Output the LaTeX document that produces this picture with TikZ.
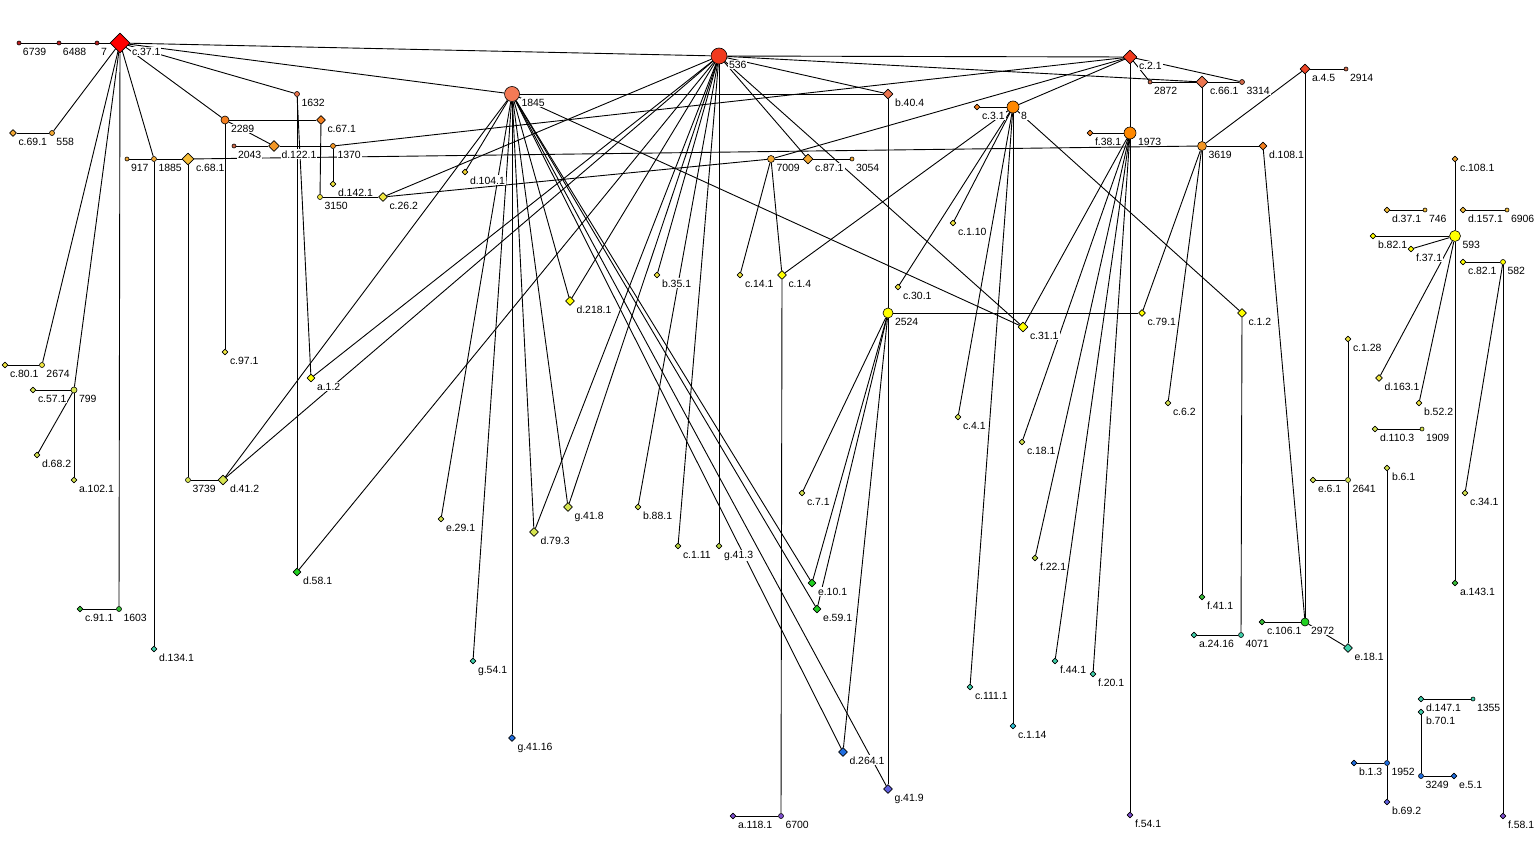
\documentclass[tikz,border=0pt]{standalone}
\usepackage{fontspec}
\setmainfont{Liberation Sans}
\usetikzlibrary{shapes.geometric,backgrounds}
\definecolor{cRed}{RGB}{255,0,0}
\definecolor{cDRed}{RGB}{190,30,30}
\definecolor{cRedOr}{RGB}{240,58,30}
\definecolor{cCoral}{RGB}{244,122,86}
\definecolor{cSalmon}{RGB}{236,118,80}
\definecolor{cBrown}{RGB}{208,104,72}
\definecolor{cOrange}{RGB}{244,128,32}
\definecolor{cOrBright}{RGB}{255,136,0}
\definecolor{cAmber}{RGB}{242,150,36}
\definecolor{cLtOr}{RGB}{242,168,52}
\definecolor{cGold}{RGB}{246,190,56}
\definecolor{cYel}{RGB}{255,255,0}
\definecolor{cLtYel}{RGB}{240,230,64}
\definecolor{cYelOr}{RGB}{240,210,48}
\definecolor{cYelGr}{RGB}{214,228,80}
\definecolor{cOlive}{RGB}{186,214,64}
\definecolor{cGreen}{RGB}{32,208,32}
\definecolor{cMidGr}{RGB}{56,192,56}
\definecolor{cTeal}{RGB}{64,208,170}
\definecolor{cCyan}{RGB}{48,196,216}
\definecolor{cBlue}{RGB}{32,110,224}
\definecolor{cViolet}{RGB}{96,96,224}
\definecolor{cPurple}{RGB}{128,80,208}
\begin{document}
\begin{tikzpicture}[x=1bp,y=-1bp,line join=bevel,
  dm/.style={diamond,draw=black,line width=0.6bp,inner sep=0pt,minimum size=#1},
  cn/.style={circle,draw=black,line width=0.6bp,inner sep=0pt,minimum size=#1},
  lbl/.style={anchor=base west,xshift=0.5bp,yshift=-12bp,fill=white,inner sep=1bp,font=\fontsize{10.5}{12}\selectfont},
  edge/.style={black,line width=0.9bp}]
\useasboundingbox (0,0) rectangle (1535,858);
%%
\node (n6739) at (19,43) [cn=4bp,fill=cDRed,label={[lbl]right:6739}] {};
\node (n6488) at (59,43) [cn=4bp,fill=cDRed,label={[lbl]right:6488}] {};
\node (n7) at (97,43) [cn=4bp,fill=cDRed,label={[lbl]right:7}] {};
\node (c37_1) at (120,43) [dm=20bp,fill=cRed,label={[lbl]right:c.37.1}] {};
\node (c69_1) at (13,133) [dm=7bp,fill=cLtOr,label={[lbl]right:c.69.1}] {};
\node (n558) at (52,133) [cn=5bp,fill=cLtOr,label={[lbl]right:558}] {};
\node (n1632) at (297,94) [cn=5bp,fill=cSalmon,label={[lbl]right:1632}] {};
\node (n2289) at (225,120) [cn=8bp,fill=cOrange,label={[lbl]right:2289}] {};
\node (c67_1) at (321,120) [dm=9bp,fill=cOrange,label={[lbl]right:c.67.1}] {};
\node (d122_1) at (274,146) [dm=11bp,fill=cAmber,label={[lbl]right:d.122.1}] {};
\node (n2043) at (234,146) [cn=4bp,fill=cBrown,label={[lbl]right:2043}] {};
\node (n1370) at (333,146) [cn=5bp,fill=cAmber,label={[lbl]right:1370}] {};
\node (n917) at (127,159) [cn=4bp,fill=cLtOr,label={[lbl]right:917}] {};
\node (n1885) at (154,159) [cn=5bp,fill=cLtOr,label={[lbl]right:1885}] {};
\node (c68_1) at (188,159) [dm=12bp,fill=cGold,label={[lbl]right:c.68.1}] {};
\node (d142_1) at (333,184) [dm=6bp,fill=cLtYel,label={[lbl]right:d.142.1}] {};
\node (n3150) at (320,197) [cn=5bp,fill=cLtYel,label={[lbl]right:3150}] {};
\node (c26_2) at (383,197) [dm=9bp,fill=cLtYel,label={[lbl]right:c.26.2}] {};
\node (c80_1) at (5,365) [dm=6bp,fill=cLtYel,label={[lbl]right:c.80.1}] {};
\node (n2674) at (42,365) [cn=5bp,fill=cLtYel,label={[lbl]right:2674}] {};
\node (c57_1) at (33,390) [dm=6bp,fill=cYelGr,label={[lbl]right:c.57.1}] {};
\node (n799) at (74,390) [cn=6bp,fill=cYelGr,label={[lbl]right:799}] {};
\node (d68_2) at (37,455) [dm=6bp,fill=cYelGr,label={[lbl]right:d.68.2}] {};
\node (a102_1) at (74,480) [dm=6bp,fill=cYelGr,label={[lbl]right:a.102.1}] {};
\node (c97_1) at (225,352) [dm=6bp,fill=cLtYel,label={[lbl]right:c.97.1}] {};
\node (a1_2) at (311,378) [dm=8bp,fill=cYel,label={[lbl]right:a.1.2}] {};
\node (n3739) at (188,480) [cn=5bp,fill=cYelGr,label={[lbl]right:3739}] {};
\node (d41_2) at (223,480) [dm=10bp,fill=cYelGr,label={[lbl]right:d.41.2}] {};
\node (d58_1) at (297,572) [dm=8bp,fill=cGreen,label={[lbl]right:d.58.1}] {};
\node (c91_1) at (80,609) [dm=6bp,fill=cMidGr,label={[lbl]right:c.91.1}] {};
\node (n1603) at (119,609) [cn=5bp,fill=cMidGr,label={[lbl]right:1603}] {};
\node (d134_1) at (154,649) [dm=6bp,fill=cTeal,label={[lbl]right:d.134.1}] {};
%
\node (n1845) at (512,94) [cn=15bp,fill=cCoral,label={[lbl]right:1845}] {};
\node (n536) at (719,56) [cn=16bp,fill=cRedOr,label={[lbl]right:536}] {};
\node (d104_1) at (465,172) [dm=6bp,fill=cYelOr,label={[lbl]right:d.104.1}] {};
\node (b35_1) at (657,275) [dm=6bp,fill=cLtYel,label={[lbl]right:b.35.1}] {};
\node (c14_1) at (740,275) [dm=6bp,fill=cLtYel,label={[lbl]right:c.14.1}] {};
\node (d218_1) at (570,301) [dm=9bp,fill=cYel,label={[lbl]right:d.218.1}] {};
\node (e29_1) at (441,519) [dm=6bp,fill=cYelGr,label={[lbl]right:e.29.1}] {};
\node (g41_8) at (568,507) [dm=9bp,fill=cYelGr,label={[lbl]right:g.41.8}] {};
\node (d79_3) at (534,532) [dm=9bp,fill=cYelGr,label={[lbl]right:d.79.3}] {};
\node (b88_1) at (638,507) [dm=6bp,fill=cYelGr,label={[lbl]right:b.88.1}] {};
\node (c1_11) at (678,546) [dm=6bp,fill=cOlive,label={[lbl]right:c.1.11}] {};
\node (g41_3) at (719,546) [dm=6bp,fill=cOlive,label={[lbl]right:g.41.3}] {};
\node (g54_1) at (473,661) [dm=6bp,fill=cTeal,label={[lbl]right:g.54.1}] {};
\node (g41_16) at (512,738) [dm=7bp,fill=cBlue,label={[lbl]right:g.41.16}] {};
\node (b40_4) at (888,94) [dm=10bp,fill=cSalmon,label={[lbl]right:b.40.4}] {};
\node (n7009) at (771,159) [cn=7bp,fill=cLtOr,label={[lbl]right:7009}] {};
\node (c87_1) at (808,159) [dm=10bp,fill=cLtOr,label={[lbl]right:c.87.1}] {};
\node (n3054) at (852,159) [cn=4bp,fill=cLtOr,label={[lbl]right:3054}] {};
\node (c1_4) at (782,275) [dm=9bp,fill=cYel,label={[lbl]right:c.1.4}] {};
\node (c30_1) at (898,287) [dm=6bp,fill=cLtYel,label={[lbl]right:c.30.1}] {};
\node (n2524) at (888,313) [cn=10bp,fill=cYel,label={[lbl]right:2524}] {};
\node (c7_1) at (802,493) [dm=6bp,fill=cYelGr,label={[lbl]right:c.7.1}] {};
\node (e10_1) at (812,583) [dm=8bp,fill=cGreen,label={[lbl]right:e.10.1}] {};
\node (e59_1) at (817,609) [dm=8bp,fill=cGreen,label={[lbl]right:e.59.1}] {};
\node (d264_1) at (843,752) [dm=9bp,fill=cBlue,label={[lbl]right:d.264.1}] {};
\node (g41_9) at (888,789) [dm=9bp,fill=cViolet,label={[lbl]right:g.41.9}] {};
\node (a118_1) at (733,816) [dm=6bp,fill=cPurple,label={[lbl]right:a.118.1}] {};
\node (n6700) at (781,816) [cn=5bp,fill=cPurple,label={[lbl]right:6700}] {};
%
\node (c2_1) at (1130,57) [dm=14bp,fill=cRedOr,label={[lbl]right:c.2.1}] {};
\node (c3_1) at (977,107) [dm=6bp,fill=cOrange,label={[lbl]right:c.3.1}] {};
\node (n8) at (1013,107) [cn=12bp,fill=cOrBright,label={[lbl]right:8}] {};
\node (f38_1) at (1090,133) [dm=6bp,fill=cOrange,label={[lbl]right:f.38.1}] {};
\node (n1973) at (1130,133) [cn=12bp,fill=cOrBright,label={[lbl]right:1973}] {};
\node (c1_10) at (953,223) [dm=6bp,fill=cLtYel,label={[lbl]right:c.1.10}] {};
\node (c31_1) at (1023,327) [dm=10bp,fill=cYel,label={[lbl]right:c.31.1}] {};
\node (c79_1) at (1142,313) [dm=7bp,fill=cYel,label={[lbl]right:c.79.1}] {};
\node (c4_1) at (958,417) [dm=6bp,fill=cYelGr,label={[lbl]right:c.4.1}] {};
\node (c18_1) at (1022,442) [dm=6bp,fill=cYelGr,label={[lbl]right:c.18.1}] {};
\node (f22_1) at (1035,558) [dm=6bp,fill=cOlive,label={[lbl]right:f.22.1}] {};
\node (c111_1) at (970,687) [dm=6bp,fill=cTeal,label={[lbl]right:c.111.1}] {};
\node (c1_14) at (1013,726) [dm=6bp,fill=cCyan,label={[lbl]right:c.1.14}] {};
\node (f44_1) at (1055,661) [dm=6bp,fill=cTeal,label={[lbl]right:f.44.1}] {};
\node (f20_1) at (1093,674) [dm=6bp,fill=cTeal,label={[lbl]right:f.20.1}] {};
\node (f54_1) at (1130,815) [dm=6bp,fill=cPurple,label={[lbl]right:f.54.1}] {};
%
\node (n2872) at (1150,82) [cn=4bp,fill=cBrown,label={[lbl]right:2872}] {};
\node (c66_1) at (1202,82) [dm=12bp,fill=cSalmon,label={[lbl]right:c.66.1}] {};
\node (n3314) at (1242,82) [cn=5bp,fill=cBrown,label={[lbl]right:3314}] {};
\node (a4_5) at (1305,69) [dm=10bp,fill=cRedOr!80!cSalmon,label={[lbl]right:a.4.5}] {};
\node (n2914) at (1346,69) [cn=4bp,fill=cBrown,label={[lbl]right:2914}] {};
\node (n3619) at (1202,146) [cn=9bp,fill=cAmber,label={[lbl]right:3619}] {};
\node (d108_1) at (1263,146) [dm=8bp,fill=cOrange,label={[lbl]right:d.108.1}] {};
\node (c6_2) at (1168,403) [dm=6bp,fill=cYelGr,label={[lbl]right:c.6.2}] {};
\node (c1_2) at (1242,313) [dm=9bp,fill=cYel,label={[lbl]right:c.1.2}] {};
\node (f41_1) at (1202,597) [dm=6bp,fill=cMidGr,label={[lbl]right:f.41.1}] {};
\node (a24_16) at (1194,635) [dm=6bp,fill=cTeal,label={[lbl]right:a.24.16}] {};
\node (n4071) at (1241,635) [cn=5bp,fill=cTeal,label={[lbl]right:4071}] {};
\node (c106_1) at (1262,622) [dm=6bp,fill=cMidGr,label={[lbl]right:c.106.1}] {};
\node (n2972) at (1305,622) [cn=8bp,fill=cGreen,label={[lbl]right:2972}] {};
\node (c1_28) at (1348,339) [dm=6bp,fill=cLtYel,label={[lbl]right:c.1.28}] {};
\node (e6_1) at (1313,480) [dm=6bp,fill=cYelGr,label={[lbl]right:e.6.1}] {};
\node (n2641) at (1348,480) [cn=5bp,fill=cYelGr,label={[lbl]right:2641}] {};
\node (e18_1) at (1348,648) [dm=9bp,fill=cTeal,label={[lbl]right:e.18.1}] {};
\node (c108_1) at (1455,159) [dm=6bp,fill=cLtOr,label={[lbl]right:c.108.1}] {};
\node (d37_1) at (1387,210) [dm=6bp,fill=cGold,label={[lbl]right:d.37.1}] {};
\node (n746) at (1425,210) [cn=4bp,fill=cGold,label={[lbl]right:746}] {};
\node (d157_1) at (1463,210) [dm=6bp,fill=cGold,label={[lbl]right:d.157.1}] {};
\node (n6906) at (1507,210) [cn=4bp,fill=cGold,label={[lbl]right:6906}] {};
\node (b82_1) at (1373,236) [dm=6bp,fill=cYel,label={[lbl]right:b.82.1}] {};
\node (n593) at (1455,236) [cn=11bp,fill=cYel,label={[lbl]right:593}] {};
\node (f37_1) at (1411,249) [dm=6bp,fill=cYel,label={[lbl]right:f.37.1}] {};
\node (c82_1) at (1463,262) [dm=6bp,fill=cYel,label={[lbl]right:c.82.1}] {};
\node (n582) at (1503,262) [cn=5bp,fill=cYel,label={[lbl]right:582}] {};
\node (d163_1) at (1379,378) [dm=7bp,fill=cLtYel,label={[lbl]right:d.163.1}] {};
\node (b52_2) at (1419,403) [dm=6bp,fill=cLtYel,label={[lbl]right:b.52.2}] {};
\node (d110_3) at (1375,429) [dm=6bp,fill=cYelGr,label={[lbl]right:d.110.3}] {};
\node (n1909) at (1422,429) [cn=4bp,fill=cYelGr,label={[lbl]right:1909}] {};
\node (b6_1) at (1387,468) [dm=6bp,fill=cYelGr,label={[lbl]right:b.6.1}] {};
\node (c34_1) at (1465,493) [dm=6bp,fill=cYelGr,label={[lbl]right:c.34.1}] {};
\node (a143_1) at (1455,583) [dm=6bp,fill=cMidGr,label={[lbl]right:a.143.1}] {};
\node (d147_1) at (1421,699) [dm=6bp,fill=cTeal,label={[lbl]right:d.147.1}] {};
\node (n1355) at (1473,699) [cn=4bp,fill=cTeal,label={[lbl]right:1355}] {};
\node (b70_1) at (1421,712) [dm=6bp,fill=cTeal,label={[lbl]right:b.70.1}] {};
\node (b1_3) at (1354,763) [dm=6bp,fill=cBlue,label={[lbl]right:b.1.3}] {};
\node (n1952) at (1387,763) [cn=5bp,fill=cBlue,label={[lbl]right:1952}] {};
\node (b69_2) at (1387,802) [dm=6bp,fill=cViolet,label={[lbl]right:b.69.2}] {};
\node (n3249) at (1421,776) [cn=5bp,fill=cBlue,label={[lbl]right:3249}] {};
\node (e5_1) at (1454,776) [dm=6bp,fill=cBlue,label={[lbl]right:e.5.1}] {};
\node (f58_1) at (1503,816) [dm=6bp,fill=cPurple,label={[lbl]right:f.58.1}] {};
%%
\begin{pgfonlayer}{background}
\fill [white] (0,0) rectangle (1535,858);
\draw [edge] (n6739) -- (n6488);
\draw [edge] (n6488) -- (n7);
\draw [edge] (n7) -- (c37_1);
\draw [edge] (c37_1) -- (n558);
\draw [edge] (n558) -- (c69_1);
\draw [edge] (c37_1) -- (n1632);
\draw [edge] (c37_1) -- (n2289);
\draw [edge] (c37_1) -- (n1885);
\draw [edge] (c37_1) -- (n1603);
\draw [edge] (c37_1) -- (n2674);
\draw [edge] (c37_1) -- (n799);
\draw [edge] (c37_1) -- (n536);
\draw [edge] (c37_1) -- (n1845);
\draw [edge] (n917) -- (n1885);
\draw [edge] (n1885) -- (c68_1);
\draw [edge] (n1885) -- (d134_1);
\draw [edge] (c68_1) -- (n3739);
\draw [edge] (c68_1) -- (n3619);
\draw [edge] (n3739) -- (d41_2);
\draw [edge] (n2289) -- (c67_1);
\draw [edge] (n2289) -- (d122_1);
\draw [edge] (n2289) -- (c97_1);
\draw [edge] (n2043) -- (d122_1);
\draw [edge] (d122_1) -- (n1370);
\draw [edge] (n1370) -- (d142_1);
\draw [edge] (n1370) -- (c2_1);
\draw [edge] (c67_1) -- (n3150);
\draw [edge] (n3150) -- (c26_2);
\draw [edge] (n1632) -- (d58_1);
\draw [edge] (n1632) -- (a1_2);
\draw [edge] (n2674) -- (c80_1);
\draw [edge] (n799) -- (c57_1);
\draw [edge] (n799) -- (d68_2);
\draw [edge] (n799) -- (a102_1);
\draw [edge] (n1603) -- (c91_1);
%
\draw [edge] (n1845) -- (b40_4);
\draw [edge] (n1845) -- (c31_1);
\draw [edge] (n1845) -- (d104_1);
\draw [edge] (n1845) -- (d41_2);
\draw [edge] (n1845) -- (e29_1);
\draw [edge] (n1845) -- (g54_1);
\draw [edge] (n1845) -- (g41_16);
\draw [edge] (n1845) -- (d79_3);
\draw [edge] (n1845) -- (g41_8);
\draw [edge] (n1845) -- (d218_1);
\draw [edge] (n1845) -- (e10_1);
\draw [edge] (n1845) -- (e59_1);
\draw [edge] (n1845) -- (d264_1);
\draw [edge] (n1845) -- (g41_9);
\draw [edge] (n536) -- (c2_1);
\draw [edge] (n536) -- (b40_4);
\draw [edge] (n536) -- (c66_1);
\draw [edge] (n536) -- (c87_1);
\draw [edge] (n536) -- (c31_1);
\draw [edge] (n536) -- (c26_2);
\draw [edge] (n536) -- (d41_2);
\draw [edge] (n536) -- (d58_1);
\draw [edge] (n536) -- (a1_2);
\draw [edge] (n536) -- (d218_1);
\draw [edge] (n536) -- (d79_3);
\draw [edge] (n536) -- (g41_8);
\draw [edge] (n536) -- (b35_1);
\draw [edge] (n536) -- (b88_1);
\draw [edge] (n536) -- (c1_11);
\draw [edge] (n536) -- (g41_3);
\draw [edge] (c26_2) -- (n7009);
\draw [edge] (n7009) -- (c87_1);
\draw [edge] (c87_1) -- (n3054);
\draw [edge] (n7009) -- (c14_1);
\draw [edge] (n7009) -- (c1_4);
\draw [edge] (n7009) -- (c2_1);
\draw [edge] (c1_4) -- (n6700);
\draw [edge] (n6700) -- (a118_1);
\draw [edge] (c1_4) -- (n8);
\draw [edge] (b40_4) -- (n2524);
\draw [edge] (n2524) -- (g41_9);
\draw [edge] (n2524) -- (c79_1);
\draw [edge] (n2524) -- (c7_1);
\draw [edge] (n2524) -- (e10_1);
\draw [edge] (n2524) -- (e59_1);
\draw [edge] (n2524) -- (d264_1);
%
\draw [edge] (c2_1) -- (n2872);
\draw [edge] (c2_1) -- (n3314);
\draw [edge] (c2_1) -- (n1973);
\draw [edge] (c2_1) -- (n8);
\draw [edge] (n2872) -- (c66_1);
\draw [edge] (c66_1) -- (n3314);
\draw [edge] (c66_1) -- (n3619);
\draw [edge] (n8) -- (c3_1);
\draw [edge] (n8) -- (c1_10);
\draw [edge] (n8) -- (c30_1);
\draw [edge] (n8) -- (c4_1);
\draw [edge] (n8) -- (c111_1);
\draw [edge] (n8) -- (c1_14);
\draw [edge] (n8) -- (c1_2);
\draw [edge] (n1973) -- (f38_1);
\draw [edge] (n1973) -- (c31_1);
\draw [edge] (n1973) -- (c18_1);
\draw [edge] (n1973) -- (f22_1);
\draw [edge] (n1973) -- (f44_1);
\draw [edge] (n1973) -- (f20_1);
\draw [edge] (n1973) -- (f54_1);
\draw [edge] (n3619) -- (a4_5);
\draw [edge] (n3619) -- (d108_1);
\draw [edge] (n3619) -- (f41_1);
\draw [edge] (n3619) -- (c6_2);
\draw [edge] (n3619) -- (c79_1);
\draw [edge] (a4_5) -- (n2914);
\draw [edge] (a4_5) -- (n2972);
\draw [edge] (d108_1) -- (n2972);
\draw [edge] (n2972) -- (c106_1);
\draw [edge] (n2972) -- (e18_1);
\draw [edge] (c1_2) -- (n4071);
\draw [edge] (n4071) -- (a24_16);
\draw [edge] (c1_28) -- (n2641);
\draw [edge] (n2641) -- (e6_1);
\draw [edge] (n2641) -- (e18_1);
\draw [edge] (n593) -- (c108_1);
\draw [edge] (n593) -- (b82_1);
\draw [edge] (n593) -- (f37_1);
\draw [edge] (n593) -- (d163_1);
\draw [edge] (n593) -- (b52_2);
\draw [edge] (n593) -- (a143_1);
\draw [edge] (d37_1) -- (n746);
\draw [edge] (d157_1) -- (n6906);
\draw [edge] (c82_1) -- (n582);
\draw [edge] (n582) -- (c34_1);
\draw [edge] (n582) -- (f58_1);
\draw [edge] (d110_3) -- (n1909);
\draw [edge] (b6_1) -- (n1952);
\draw [edge] (n1952) -- (b1_3);
\draw [edge] (n1952) -- (b69_2);
\draw [edge] (d147_1) -- (n1355);
\draw [edge] (b70_1) -- (n3249);
\draw [edge] (n3249) -- (e5_1);
\end{pgfonlayer}
%
\end{tikzpicture}
\end{document}
